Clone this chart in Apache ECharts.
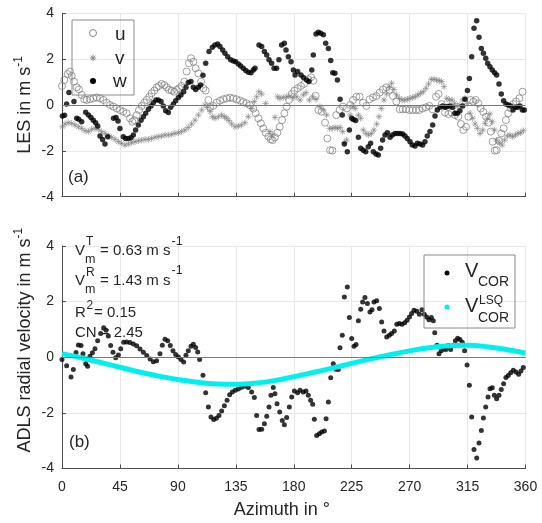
<!DOCTYPE html>
<html>
<head>
<meta charset="utf-8">
<script src="https://cdn.jsdelivr.net/npm/echarts/dist/echarts.min.js"></script>
<style>
  html, body { margin: 0; padding: 0; background: #ffffff; }
  #chart { width: 542px; height: 523px; }
</style>
</head>
<body>
<div id="chart"></div>
<script>
// Azimuth ticks shared by both panels
const azimuthTicks = [0, 45, 90, 135, 180, 225, 270, 315, 360];
const velocityTicks = [-4, -2, 0, 2, 4];

// (a) LES wind components [azimuth in deg, m/s]
const lesU = [[0,0.83],[1.8,1.09],[4.4,1.35],[6.2,1.46],[7.5,1.27],[9.3,1.02],[11.4,0.77],[13.2,0.68],[15.3,0.44],[17.3,0.25],[19.2,0.22],[21.7,0.25],[24.3,0.29],[26.9,0.33],[29.5,0.29],[32.1,0.22],[34.7,0.10],[37.3,0.0],[39.9,-0.07],[42.5,-0.15],[45,-0.22],[47.6,-0.29],[50.2,-0.36],[52.8,-0.58],[54.6,-0.73],[56.2,-0.66],[58,-0.44],[59.8,-0.22],[61.9,-0.04],[63.9,0.10],[65.8,0.22],[67.8,0.36],[69.6,0.51],[71.7,0.63],[73.5,0.77],[75.3,0.83],[77.4,0.92],[79.5,0.87],[81.3,0.77],[83.1,0.66],[85.2,0.63],[87.2,0.58],[89.1,0.66],[90.9,0.73],[92.9,0.83],[95,1.02],[96.8,1.46],[98.6,1.82],[100.2,2.04],[102,1.89],[103.8,1.60],[105.9,1.38],[108,1.02],[109.8,0.73],[111.6,0.63],[113.7,0.22],[115,-0.10],[117.5,-0.04],[120.1,0.10],[122.7,0.19],[125.3,0.25],[127.9,0.29],[130.5,0.32],[133.1,0.29],[135.7,0.25],[138.3,0.19],[140.8,0.13],[143.4,0.07],[146,-0.01],[148.6,-0.16],[150.4,-0.36],[152.5,-0.58],[154.5,-0.80],[156.4,-1.02],[158.2,-1.21],[160.3,-1.38],[162.1,-1.50],[163.6,-1.53],[165.4,-1.41],[167.3,-1.21],[169.1,-0.95],[170.9,-0.66],[172.7,-0.36],[174.5,-0.07],[176.3,0.22],[178.4,0.48],[180.5,0.63],[183,0.73],[185.6,0.83],[188.2,0.92],[191.3,1.12],[193.4,1.21],[195.2,1.06],[197,0.40],[199.1,-0.22],[201.7,-0.29],[204.3,-0.77],[206.1,-1.46],[208.2,-1.97],[210,-1.99],[213,-0.44],[215.6,-0.22],[218.2,-0.07],[221.3,-0.15],[223.9,0.0],[226,0.22],[228.6,0.36],[231.2,0.36],[233.8,0.10],[236.4,-0.04],[239,0.25],[241.6,0.33],[244.2,0.39],[246.7,0.54],[249.3,0.68],[251.9,0.77],[254.5,0.66],[257.1,0.39],[259.7,0.15],[262.3,-0.19],[264.6,-0.19],[267.2,-0.19],[269.8,-0.22],[272.4,-0.22],[275,-0.22],[277.5,-0.22],[280.1,-0.15],[282.7,-0.10],[285.3,-0.04],[287.9,-0.19],[290.5,0.36],[292.5,0.48],[294.9,0.04],[297.4,-0.33],[300.1,-0.39],[302.6,-0.33],[305.2,-0.44],[307.8,-0.51],[309.9,-0.83],[311.7,-1.09],[313.8,-0.95],[315.6,-0.51],[317.4,0.22],[319.5,0.15],[321.3,0.22],[323.4,0.07],[325.2,-0.15],[327.2,-0.30],[329.3,-0.51],[331.2,-0.77],[333,-1.16],[334.5,-1.60],[336.1,-1.99],[337.6,-1.97],[339.4,-1.56],[341.2,-1.24],[343,-1.02],[344.8,-0.66],[346.6,-0.36],[348.5,-0.15],[350.5,0.04],[352.6,0.15],[355.2,0.29],[357.7,0.58]];

const lesV = [[0.3,-0.95],[2.3,-0.83],[4.9,-0.77],[7.5,-0.80],[10.1,-0.87],[12.7,-0.95],[15.3,-1.02],[17.9,-1.12],[20.5,-1.16],[23,-1.06],[25.6,-1.02],[28.2,-1.06],[30.8,-1.16],[33.4,-1.24],[36,-1.35],[38.6,-1.41],[41.2,-1.50],[43.8,-1.60],[46.3,-1.67],[48.9,-1.75],[51.5,-1.70],[54.1,-1.64],[56.7,-1.60],[59.3,-1.56],[61.9,-1.53],[64.5,-1.50],[67.1,-1.50],[69.6,-1.46],[72.2,-1.41],[74.8,-1.38],[77.4,-1.35],[80,-1.31],[82.6,-1.31],[85.2,-1.28],[87.8,-1.24],[90.4,-1.21],[92.9,-1.16],[95.5,-1.09],[98.1,-0.98],[100.7,-0.83],[103.3,-0.66],[105.9,-0.44],[108.5,-0.22],[111.1,0.0],[113.1,-0.10],[115,-0.29],[116.8,-0.51],[118.8,-0.58],[121.4,-0.51],[124,-0.44],[126.1,-0.51],[127.9,-0.58],[129.7,-0.68],[131.8,-0.83],[134.4,-0.95],[137,-0.92],[139.5,-0.87],[142.1,-0.77],[144.7,-0.51],[147.3,-0.15],[149.4,0.15],[151.2,0.36],[153,0.58],[155.1,0.48],[158.2,0.07],[161.6,-1.16],[163.4,-1.31],[165.4,-0.54],[167.5,0.36],[169.3,0.29],[171.9,0.33],[174.5,0.36],[177.1,0.39],[179.7,0.33],[182.3,0.36],[184.9,0.22],[187.4,0.44],[189.5,0.54],[192.1,0.22],[194.7,0.36],[197.3,0.25],[200.4,-0.07],[203,-0.22],[205.6,-0.44],[207.8,-1.02],[209.9,-1.02],[212.1,-0.98],[213.9,-1.02],[216,-0.98],[218,-1.16],[219.3,-1.64],[221.1,-1.53],[223.9,-0.44],[226,-0.07],[227.8,-0.15],[230.2,-0.44],[232,-0.58],[234,-1.09],[236.1,-1.24],[238.2,-1.31],[240.3,-1.24],[242.3,-1.09],[244.4,-0.83],[246.2,-0.51],[248,-0.15],[250.1,0.22],[252.2,0.48],[254.2,0.77],[256,0.95],[257.8,0.68],[259.9,0.44],[262,0.29],[264.1,0.22],[266.2,0.22],[268.2,0.25],[270.3,0.29],[272.4,0.33],[274.4,0.36],[276.5,0.44],[278.5,0.51],[280.6,0.58],[282.7,0.73],[284.7,0.92],[286.8,1.12],[288.9,1.12],[291,1.09],[293,1.06],[294.9,1.02],[296.7,0.80],[298.8,0.29],[300.8,0.22],[302.9,0.22],[305,0.07],[307,-0.07],[309.1,0.0],[311.2,0.22],[313,0.29],[314.9,0.07],[316.9,-0.36],[319,-0.58],[320.8,-0.83],[322.6,-1.02],[324.7,-1.24],[326.8,-1.09],[328.6,-0.80],[330.4,-0.58],[332.4,-0.39],[334.2,-0.73],[336,-1.09],[337.6,-1.53],[339.7,-1.64],[341.8,-1.75],[343.8,-1.53],[345.9,-1.35],[347.9,-1.31],[350,-1.38],[352.1,-1.31],[354.2,-1.24],[356.3,-1.21],[358.3,-1.12]];

const lesW = [[0.3,-0.48],[2,-0.45],[3.6,0.04],[5.4,0.54],[9.3,0.15],[11.4,-0.58],[13,-0.62],[15.3,-0.73],[18.4,-0.32],[20.5,-0.44],[22.5,-0.54],[24.3,-0.66],[26.1,-0.77],[27.7,-0.92],[29.5,-1.35],[31.5,-1.50],[33.4,-1.70],[35.5,-1.38],[40,-0.58],[42,-0.55],[43.5,-0.70],[45,-1.02],[47.6,-1.38],[49.4,-1.46],[51.5,-1.46],[53.6,-1.43],[55.4,-1.31],[57.2,-1.09],[59.3,-0.87],[61.4,-0.66],[63.2,-0.51],[65,-0.36],[67.1,-0.19],[69.1,-0.04],[70.9,0.10],[73,0.22],[74.8,0.22],[76.9,0.15],[78.7,-0.04],[80.5,-0.25],[82.6,-0.33],[84.4,-0.10],[86.5,0.04],[88.3,0.19],[90.4,0.33],[92.4,0.44],[94.5,0.58],[96.3,0.77],[98.1,0.98],[100.2,1.02],[102,0.77],[103.8,0.68],[105.9,0.77],[107.7,0.87],[109.5,1.30],[111.6,1.82],[114.2,2.33],[116.8,2.52],[118.8,2.62],[120.9,2.66],[122.7,2.55],[124.8,2.40],[126.6,2.26],[128.7,2.11],[131,1.97],[133.1,1.92],[134.9,1.89],[137,1.79],[138.8,1.70],[140.8,1.60],[142.7,1.50],[144.7,1.43],[146.8,1.41],[148.6,1.53],[149.9,1.60],[153,2.62],[155.1,2.55],[157.2,2.33],[159,2.18],[160.8,1.97],[162.8,1.82],[164.7,1.60],[166.7,1.60],[168.5,1.97],[170.6,2.62],[172.7,2.69],[174,2.40],[175.8,2.11],[177.9,1.89],[179.7,1.53],[181,1.31],[183,1.46],[185.6,1.31],[187.5,1.20],[190,1.09],[191.8,1.02],[194,1.53],[195.2,2.18],[197.3,3.10],[199.1,3.17],[200.9,3.13],[203,3.06],[204.8,2.69],[206.9,2.47],[208.7,1.94],[210.3,1.41],[212,1.38],[213.9,1.09],[216,0.25],[217.7,-0.44],[219.3,-1.70],[221.6,-2.04],[223.2,-1.09],[225,-0.58],[226.3,-0.63],[228.1,-0.68],[230.2,-1.41],[232,-1.89],[234,-1.97],[235.9,-2.04],[237.9,-1.82],[239.7,-1.67],[241.8,-2.04],[243.9,-2.14],[245.7,-2.18],[247.5,-1.89],[249,-1.53],[250.9,-1.31],[252.7,-1.21],[254.8,-1.41],[256.6,-1.31],[258.7,-1.24],[260.5,-1.24],[262.6,-1.24],[264.6,-1.27],[266.4,-1.35],[268.2,-1.46],[270.3,-1.60],[272.1,-1.75],[274.2,-1.79],[276,-1.67],[278.1,-1.70],[280.1,-1.75],[281.9,-1.60],[283.7,-1.35],[285.8,-1.16],[287.9,-0.87],[289.7,-0.48],[291.5,-0.22],[293.6,-0.10],[295.7,-0.04],[297.5,-0.10],[299.3,-0.07],[301.4,-0.04],[303.4,-0.10],[305.2,-0.36],[307.1,-0.36],[309.1,-0.25],[311.2,-0.04],[313,0.25],[314.9,0.63],[316.4,1.16],[318.2,2.11],[320,3.35],[322.1,3.68],[323.9,2.95],[325.7,2.47],[327.3,2.26],[329.1,2.04],[330.6,1.82],[332.4,1.67],[334.2,1.53],[336,1.41],[337.6,1.31],[339.4,0.92],[341.2,0.48],[343,0.19],[344.8,0.04],[346.6,0.0],[348.5,-0.04],[350.3,-0.22],[352.2,-0.10],[353.9,-0.10],[355.7,-0.04],[357.5,-0.22],[359.1,-0.22]];

// (b) ADLS radial velocity corrected [azimuth in deg, m/s]
const vCor = [[0,-0.08],[3.6,-0.31],[7.0,-0.71],[8.8,-0.44],[10.9,0.17],[12.7,0.44],[14.8,0.42],[16.3,0.13],[18.4,-0.23],[19.9,-0.32],[21.7,0.04],[23.6,0.16],[25.6,0.31],[27.7,0.59],[30.0,0.85],[32.4,1.06],[34.2,0.97],[36.0,0.76],[37.8,0.42],[39.6,0.18],[41.7,-0.02],[43.8,0.08],[45.6,0.31],[47.9,0.54],[50.2,0.55],[52.8,0.53],[55.4,0.48],[58.0,0.41],[60.6,0.30],[63.2,0.18],[65.8,0.06],[68.4,-0.06],[70.9,-0.16],[73.5,-0.13],[76.1,0.13],[77.9,0.43],[80.0,0.65],[82.1,0.59],[84.1,0.42],[86.2,0.23],[88.3,0.10],[90.4,0.01],[92.4,-0.08],[94.5,-0.17],[96.3,0.07],[98.1,0.23],[100.2,0.40],[102.0,0.47],[103.8,0.35],[105.4,0.19],[106.9,-0.08],[109.5,-0.65],[111.6,-1.28],[113.7,-1.79],[115.7,-2.15],[117.8,-2.24],[119.9,-2.19],[121.9,-2.09],[124.0,-1.93],[126.1,-1.74],[128.2,-1.55],[130.2,-1.35],[132.3,-1.25],[134.6,-1.19],[137.0,-1.14],[139.5,-1.08],[142.1,-1.04],[144.7,-1.09],[147.3,-1.25],[149.4,-1.45],[151.2,-2.09],[153.0,-2.60],[155.1,-2.59],[157.2,-2.39],[159.0,-2.12],[160.8,-1.79],[162.3,-1.37],[164.1,-1.09],[165.4,-1.31],[167.0,-1.67],[169.1,-1.97],[171.1,-2.27],[172.7,-2.43],[174.5,-2.17],[176.6,-1.79],[178.4,-1.43],[180.5,-1.21],[183.0,-1.28],[184.9,-1.19],[187.4,-1.25],[189.5,-1.21],[191.3,-1.37],[193.1,-1.55],[194.7,-1.69],[196.0,-2.23],[197.8,-2.81],[199.9,-2.75],[201.7,-2.69],[203.8,-2.65],[205.1,-2.21],[206.9,-1.61],[208.7,-0.74],[210.7,-0.23],[212.8,-0.43],[214.6,-0.44],[215.9,0.34],[217.7,0.79],[219.3,2.17],[221.6,2.53],[223.2,1.43],[225.0,0.67],[226.8,0.40],[228.4,0.46],[230.2,1.31],[232.0,1.73],[233.5,1.99],[235.3,2.15],[237.2,1.93],[239.2,1.63],[240.8,1.71],[242.3,1.99],[244.4,2.03],[246.5,1.75],[248.3,1.27],[250.1,0.94],[252.2,0.73],[254.2,0.79],[256.0,0.85],[258.1,0.94],[260.0,1.19],[262.0,1.21],[264.1,1.19],[266.2,1.24],[268.0,1.33],[269.9,1.45],[271.6,1.57],[273.4,1.69],[275.5,1.65],[277.6,1.55],[279.6,1.71],[281.4,1.55],[283.2,1.45],[285.0,1.35],[286.9,1.43],[288.4,1.31],[289.5,0.88],[291.3,0.43],[292.8,0.13],[294.6,0.23],[296.4,0.30],[298.2,0.28],[300.1,0.42],[301.9,0.28],[303.7,0.42],[305.5,0.59],[307.3,0.68],[309.1,0.64],[310.9,0.54],[312.7,0.23],[314.6,-0.28],[316.4,-1.01],[318.2,-2.15],[320.0,-3.32],[322.1,-3.62],[323.9,-3.08],[325.7,-2.63],[327.3,-2.18],[329.1,-1.79],[330.9,-1.43],[332.4,-1.13],[334.2,-1.10],[335.8,-1.37],[337.6,-1.49],[339.4,-1.37],[341.2,-1.16],[343.0,-0.95],[344.8,-0.73],[346.6,-0.66],[348.5,-0.56],[350.5,-0.47],[352.6,-0.53],[354.7,-0.61],[356.5,-0.49],[358.3,-0.37]];

// Least-squares sine fit of the corrected radial velocity
const lsqAzimuth = [0, 15, 30, 45, 60, 75, 90, 105, 120, 135, 150, 165, 180, 195, 210, 225, 240, 255, 270, 285, 300, 315, 330, 345, 360];
const lsqVelocity = [0.13, -0.02, -0.19, -0.36, -0.53, -0.68, -0.80, -0.90, -0.96, -0.97, -0.93, -0.84, -0.70, -0.55, -0.39, -0.22, -0.06, 0.09, 0.23, 0.34, 0.41, 0.43, 0.38, 0.28, 0.15];

// Fit statistics shown in panel (b)
const fitStats = { vmT: '0.63', vmR: '1.43', r2: '0.15', cn: '2.45' };

const FONT = "'Liberation Sans', Arial, Helvetica, sans-serif";
const INK = '#262626';
const AXIS_COLOR = '#4d4d4d';
const GRID_COLOR = '#e8e8e8';
const U_COLOR = '#7a7a7a';
const V_COLOR = '#7f7f7f';
const LSQ_COLOR = '#00f0f0';
const ASTERISK = 'path://M0,-5L0,5M-5,0L5,0M-3.5,-3.5L3.5,3.5M-3.5,3.5L3.5,-3.5';

const GRID_LEFT = 62, GRID_WIDTH = 463.5;

function xAxisFor(gridIndex, showLabels) {
  return {
    type: 'value', gridIndex, min: azimuthTicks[0], max: azimuthTicks[azimuthTicks.length - 1], interval: 45,
    axisLine: { show: true, onZero: false, lineStyle: { color: AXIS_COLOR, width: 1 } },
    axisTick: { show: true, inside: true, length: 4, lineStyle: { color: AXIS_COLOR } },
    splitLine: { show: true, lineStyle: { color: GRID_COLOR, width: 1 } },
    axisLabel: { show: showLabels, fontFamily: FONT, fontSize: 14, color: INK, margin: 12 },
    name: showLabels ? 'Azimuth in °' : '',
    nameLocation: 'middle', nameGap: 33, nameMoveOverlap: false,
    nameTextStyle: { fontFamily: FONT, fontSize: 18, color: INK, padding: [0, 24, 0, 0] }
  };
}

function yAxisFor(gridIndex, title, shift) {
  return {
    type: 'value', gridIndex, min: velocityTicks[0], max: velocityTicks[velocityTicks.length - 1], interval: 2,
    axisLine: { show: true, onZero: false, lineStyle: { color: AXIS_COLOR, width: 1 } },
    axisTick: { show: true, inside: true, length: 4, lineStyle: { color: AXIS_COLOR } },
    splitLine: { show: true, lineStyle: { color: GRID_COLOR, width: 1 } },
    axisLabel: { fontFamily: FONT, fontSize: 14, color: INK, margin: 8 },
    name: '{t|' + title + '}{s|-1}',
    nameLocation: 'middle', nameRotate: 90, nameGap: 25, nameMoveOverlap: false,
    nameTextStyle: {
      color: INK, padding: [0, 0, 0, shift],
      rich: {
        t: { fontFamily: FONT, fontSize: 18, color: INK, lineHeight: 24 },
        s: { fontFamily: FONT, fontSize: 12, color: INK, lineHeight: 14, verticalAlign: 'top' }
      }
    }
  };
}

const zeroLine = {
  silent: true, symbol: 'none',
  label: { show: false },
  lineStyle: { color: '#7a7a7a', width: 1, type: 'solid' },
  data: [{ yAxis: 0 }]
};

function label(text, x, y, size, extra) {
  return Object.assign({
    type: 'text', x, y, z: 10,
    style: { text, fontFamily: FONT, fontSize: size, fill: INK, align: 'left', verticalAlign: 'middle' }
  }, extra || {});
}

function asteriskGlyph(cx, cy, r, color) {
  const d = r * 0.7071;
  const seg = (x1, y1, x2, y2) => ({ type: 'line', z: 10, shape: { x1, y1, x2, y2 }, style: { stroke: color, lineWidth: 0.9 } });
  return [seg(cx, cy - r, cx, cy + r), seg(cx - r, cy, cx + r, cy), seg(cx - d, cy - d, cx + d, cy + d), seg(cx - d, cy + d, cx + d, cy - d)];
}

const graphics = [
  // panel tags
  label('(a)', 68, 177, 17),
  label('(b)', 69, 442, 17),

  // legend of panel (a)
  { type: 'rect', z: 10, shape: { x: 72, y: 20, width: 62, height: 75 }, style: { fill: 'none', stroke: '#8a8a8a', lineWidth: 1 } },
  { type: 'circle', z: 10, shape: { cx: 93, cy: 33, r: 3.5 }, style: { fill: 'none', stroke: U_COLOR, lineWidth: 0.9 } },
  ...asteriskGlyph(93, 58, 3.2, V_COLOR),
  { type: 'circle', z: 10, shape: { cx: 93, cy: 81, r: 3 }, style: { fill: '#000000' } },
  label('u', 115, 34.5, 19),
  label('v', 115, 59, 19),
  label('w', 113, 81.5, 19),

  // legend of panel (b)
  { type: 'rect', z: 10, shape: { x: 424, y: 255, width: 91, height: 73 }, style: { fill: 'none', stroke: '#8a8a8a', lineWidth: 1 } },
  { type: 'circle', z: 10, shape: { cx: 447, cy: 273, r: 2.5 }, style: { fill: '#000000' } },
  { type: 'circle', z: 10, shape: { cx: 447, cy: 307, r: 2.5 }, style: { fill: LSQ_COLOR } },
  label('V', 465, 271, 20),
  label('COR', 478, 282.5, 14),
  label('V', 465, 306, 20),
  label('LSQ', 479, 301, 12),
  label('COR', 478, 318, 14),

  // fit statistics of panel (b)
  label('V', 75, 251, 15),
  label('T', 86, 242, 12),
  label('m', 85, 259.5, 12.5),
  label('= ' + fitStats.vmT + ' m s', 100, 251, 15),
  label('-1', 171.5, 241.5, 12.5),

  label('V', 75, 280.5, 15),
  label('R', 86, 272.5, 12),
  label('m', 85, 290, 12.5),
  label('= ' + fitStats.vmR + ' m s', 100, 280.5, 15),
  label('-1', 171.5, 271, 12.5),

  label('R', 75, 313, 15),
  label('2', 86.5, 306, 12),
  label('= ' + fitStats.r2, 94, 313, 15),

  label('CN = ' + fitStats.cn, 75, 333, 15)
];

const chart = echarts.init(document.getElementById('chart'), null, { renderer: 'canvas' });
chart.setOption({
  animation: false,
  backgroundColor: '#ffffff',
  textStyle: { fontFamily: FONT },
  grid: [
    { left: GRID_LEFT, top: 13.3, width: GRID_WIDTH, height: 183.4, containLabel: false, outerBoundsMode: 'none' },
    { left: GRID_LEFT, top: 246, width: GRID_WIDTH, height: 222.5, containLabel: false, outerBoundsMode: 'none' }
  ],
  xAxis: [xAxisFor(0, false), xAxisFor(1, true)],
  yAxis: [yAxisFor(0, 'LES in m s', 0), yAxisFor(1, 'ADLS radial velocity in m s', 34)],
  graphic: graphics,
  series: [
    {
      name: 'u', type: 'scatter', xAxisIndex: 0, yAxisIndex: 0, data: lesU,
      symbol: 'circle', symbolSize: 7,
      itemStyle: { color: 'rgba(0,0,0,0)', borderColor: U_COLOR, borderWidth: 0.9 },
      markLine: zeroLine
    },
    {
      name: 'v', type: 'scatter', xAxisIndex: 0, yAxisIndex: 0, data: lesV,
      symbol: ASTERISK, symbolSize: 6.5,
      itemStyle: { color: 'rgba(0,0,0,0)', borderColor: V_COLOR, borderWidth: 0.8 }
    },
    {
      name: 'w', type: 'scatter', xAxisIndex: 0, yAxisIndex: 0, data: lesW,
      symbol: 'circle', symbolSize: 5.5,
      itemStyle: { color: '#000000' }
    },
    {
      name: 'V_COR', type: 'scatter', xAxisIndex: 1, yAxisIndex: 1, data: vCor,
      symbol: 'circle', symbolSize: 5,
      itemStyle: { color: '#000000' },
      markLine: zeroLine
    },
    {
      name: 'V_COR_LSQ', type: 'line', xAxisIndex: 1, yAxisIndex: 1,
      data: lsqAzimuth.map((a, i) => [a, lsqVelocity[i]]),
      showSymbol: false, smooth: 0.4,
      lineStyle: { color: LSQ_COLOR, width: 5 }
    }
  ]
});
</script>
</body>
</html>
